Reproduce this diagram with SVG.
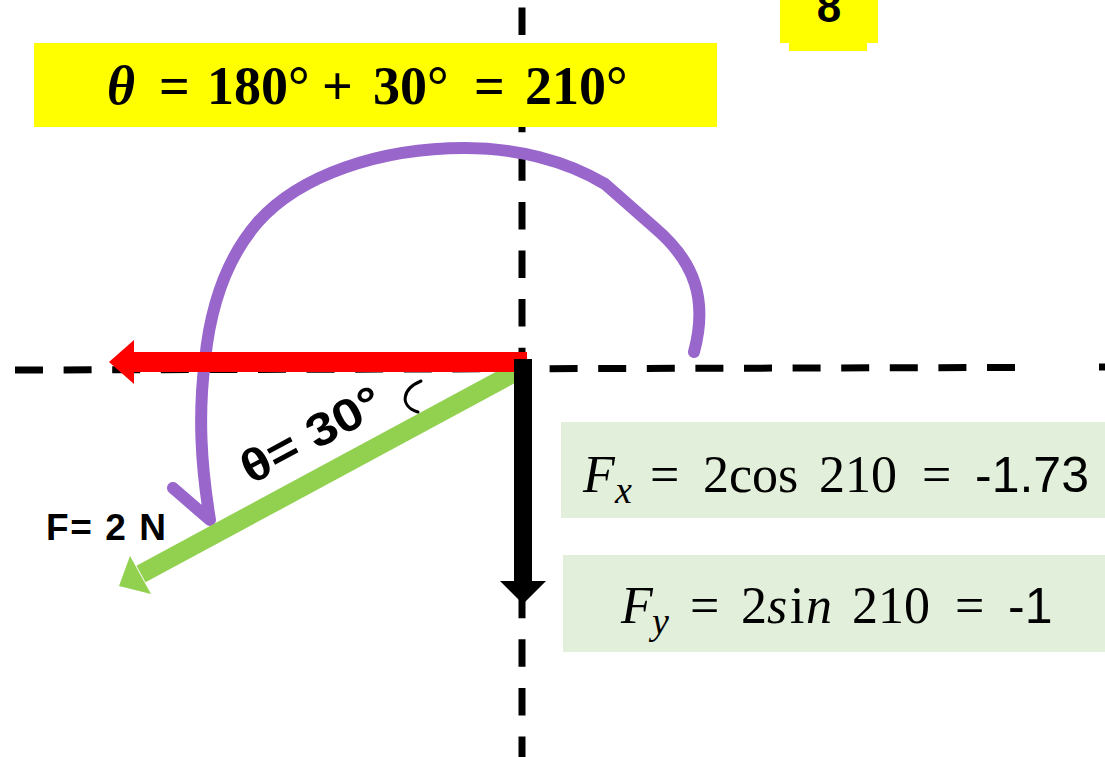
<svg xmlns="http://www.w3.org/2000/svg" width="1105" height="757" viewBox="0 0 1105 757">
<style>
.axis{stroke:#000;stroke-width:7;fill:none}
.hl{fill:#FFFF00}
.gbox{fill:#E2EFDA}
.math{font-family:"Liberation Serif","DejaVu Serif",serif;fill:#000}
.sans{font-family:"Liberation Sans",Arial,sans-serif;fill:#000}
.it{font-style:italic}
</style>
<rect width="1105" height="757" fill="#fff"/>
<g id="axes">
<line class="axis" x1="522" y1="7.5" x2="522" y2="757" stroke-dasharray="27.5 21.1"/>
<line class="axis" x1="15" y1="370" x2="1015" y2="367.5" stroke-dasharray="28 20.6"/>
<line class="axis" x1="1099" y1="367" x2="1105" y2="367"/>
</g>
<g id="title">
<rect class="hl" x="34" y="43" width="683" height="84"/>
<text class="math" font-weight="bold" font-size="54" y="104"><tspan x="107" class="it">θ</tspan><tspan x="159">=</tspan><tspan x="207">180°</tspan><tspan x="322">+</tspan><tspan x="373">30°</tspan><tspan x="474">=</tspan><tspan x="525">210°</tspan></text>
</g>
<g id="badge">
<rect class="hl" x="780" y="0" width="98" height="43"/>
<rect class="hl" x="789" y="40" width="78" height="11"/>
<text class="sans" font-weight="bold" font-size="44" x="829" y="22" text-anchor="middle">8</text>
</g>
<g id="connectors">
<path id="rotation" d="M 694 352 C 708 300, 695 262, 655 228 L 605 184 C 565 160, 515 148, 465 148 C 380 148, 300 175, 258 222 C 225 260, 210 310, 205 360 C 198 415, 201 465, 210 520 M 173 488 L 210 520" fill="none" stroke="#9966CC" stroke-width="12" stroke-linecap="round" stroke-linejoin="round"/>
<g id="force">
<line x1="521" y1="369" x2="141" y2="574" stroke="#92D050" stroke-width="19"/>
<polygon points="119,586 130,556 151,594" fill="#92D050"/>
</g>
<g id="fx-arrow">
<rect x="134" y="352" width="393" height="20" fill="#FF0000"/>
<polygon points="109,362 134,340 134,384" fill="#FF0000"/>
</g>
<g id="fy-arrow">
<rect x="514" y="359" width="18" height="223" fill="#000"/>
<polygon points="500,581 546,581 523,604" fill="#000"/>
</g>
</g>
<g id="angle-label">
<text class="sans" font-weight="bold" font-size="46" x="251" y="485" transform="rotate(-28.3 251 485)" textLength="154" lengthAdjust="spacingAndGlyphs">θ= 30°</text>
<path d="M 421 381 C 402 389, 399 406, 418 412" fill="none" stroke="#000" stroke-width="3" stroke-linecap="round"/>
</g>
<g id="force-label">
<text class="sans" font-weight="bold" font-size="37" x="46" y="540" textLength="120" lengthAdjust="spacing">F= 2 N</text>
</g>
<g id="fx-box">
<rect class="gbox" x="561" y="422" width="544" height="96"/>
<text class="math" font-size="52" y="492"><tspan x="583" class="it">F</tspan><tspan x="615" y="503" font-size="38" class="it">x</tspan><tspan x="650" y="492">=</tspan><tspan x="703">2cos</tspan><tspan x="819">210</tspan><tspan x="922">=</tspan><tspan x="975" class="sans" font-size="50">-1.73</tspan></text>
</g>
<g id="fy-box">
<rect class="gbox" x="563" y="555" width="542" height="97"/>
<text class="math" font-size="52" y="623"><tspan x="621" class="it">F</tspan><tspan x="652" y="634" font-size="38" class="it">y</tspan><tspan x="690" y="623">=</tspan><tspan x="741">2</tspan><tspan x="767" class="it">s</tspan><tspan x="790">i</tspan><tspan x="806" class="it">n</tspan><tspan x="852">210</tspan><tspan x="955">=</tspan><tspan x="1008" class="sans" font-size="50">-1</tspan></text>
</g>
</svg>
